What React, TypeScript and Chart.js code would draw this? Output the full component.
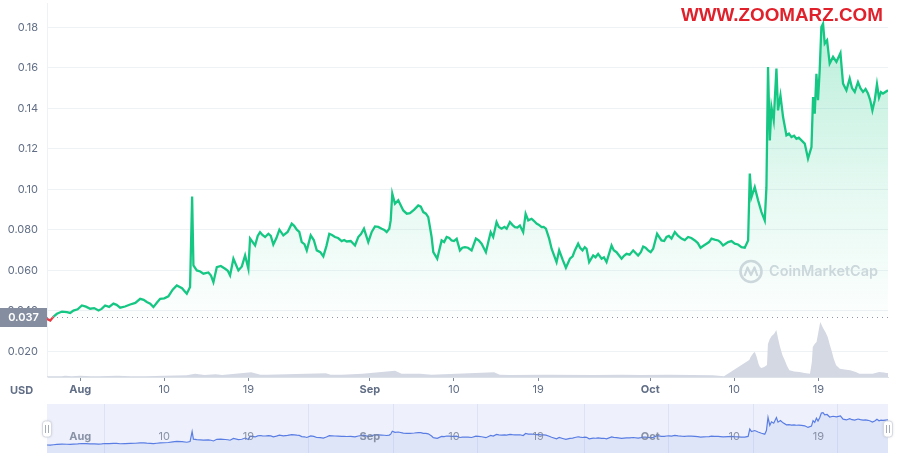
import React, { useEffect, useRef } from 'react';
import { Chart, registerables } from 'chart.js';
Chart.register(...registerables);

// Days counted from Aug 1 (Aug 1 = 0, Sep 1 = 31, Oct 1 = 61)
const priceDays = [
  -3.56, -3.2, -2.49, -1.42, -0.72, 0.18, 1.07, 1.96, 2.67, 3.56, 4.28, 5.35, 6.42, 7.13, 7.84, 8.56, 9.44,
  10.34, 11.41, 11.76, 11.98, 12.12, 12.48, 13.19, 13.72, 14.26, 14.62, 15.51, 16.04, 16.4, 16.93, 17.65,
  18.0, 18.18, 18.72, 19.25, 19.79, 20.14, 20.67, 21.32, 21.74, 22.64, 23.18, 23.71, 24.25, 24.67, 25.32,
  26.02, 26.66, 27.27, 27.99, 28.52, 29.41, 29.76, 30.37, 30.83, 31.55, 32.27, 32.8, 33.08, 33.23, 33.4,
  33.69, 34.04, 34.58, 35.29, 36.18, 36.72, 37.25, 37.61, 37.79, 38.21, 38.68, 39.22, 39.75, 40.29, 40.64,
  41.18, 41.89, 42.35, 42.96, 43.42, 43.93, 44.2, 44.56, 45.1, 45.64, 45.99, 46.52, 47.06, 47.41, 47.67,
  47.95, 48.31, 48.84, 49.38, 49.84, 50.19, 50.45, 50.98, 51.26, 51.63, 51.98, 52.41, 52.94, 53.29, 53.76,
  54.19, 54.47, 54.9, 55.43, 55.8, 56.33, 56.87, 57.4, 57.94, 58.47, 59.18, 59.71, 60.25, 60.78, 61.32,
  61.74, 62.21, 62.75, 63.28, 63.64, 64.35, 65.06, 65.78, 66.39, 67.03, 67.56, 68.27, 68.8, 69.34, 70.05,
  70.77, 71.12, 71.48, 71.66, 71.84, 72.19, 72.55, 72.91, 73.26, 73.44, 73.61, 73.8, 73.98, 74.22, 74.51,
  74.68, 74.94, 75.22, 75.58, 76.12, 76.65, 77.19, 77.54, 77.89, 78.26, 78.43, 78.61, 78.79, 78.96, 79.14,
  79.32, 79.5, 79.68, 79.93, 80.21, 80.57, 80.93, 81.36, 81.64, 82.0, 82.35, 82.89, 83.24, 83.78, 84.31,
  84.78, 85.03, 85.27, 85.49, 85.91, 86.45,
];
const priceValues = [
  0.0361, 0.0353, 0.0386, 0.0394, 0.0402, 0.0427, 0.0411, 0.0402, 0.0427, 0.0436, 0.0416, 0.0432, 0.046, 0.0444, 0.0419, 0.046, 0.0472,
  0.0526, 0.0485, 0.0518, 0.0965, 0.0625, 0.06, 0.0584, 0.059, 0.0542, 0.0616, 0.0608, 0.0575, 0.0658, 0.06, 0.0674,
  0.0608, 0.0757, 0.0723, 0.0789, 0.0765, 0.0781, 0.0728, 0.0801, 0.0773, 0.0831, 0.0801, 0.074, 0.0699, 0.0773, 0.0699,
  0.0669, 0.0781, 0.0765, 0.0745, 0.0743, 0.0723, 0.0765, 0.0806, 0.074, 0.0817, 0.0806, 0.0789, 0.0806, 0.0847, 0.0979,
  0.0929, 0.0946, 0.0896, 0.0883, 0.0921, 0.0888, 0.0863, 0.0765, 0.069, 0.0658, 0.0748, 0.0765, 0.0748, 0.0756, 0.0699,
  0.0715, 0.0699, 0.0757, 0.0732, 0.069, 0.0789, 0.0765, 0.0839, 0.0806, 0.0806, 0.0839, 0.0814, 0.0822, 0.0789, 0.088,
  0.0847, 0.0855, 0.0831, 0.0814, 0.0806, 0.0757, 0.0707, 0.0641, 0.0699, 0.0653, 0.0613, 0.0658, 0.0699, 0.0732, 0.0699,
  0.0707, 0.0641, 0.0674, 0.0682, 0.0658, 0.0641, 0.0723, 0.069, 0.0658, 0.0682, 0.0699, 0.0674, 0.0718, 0.0699, 0.0707,
  0.0781, 0.0748, 0.0765, 0.0757, 0.0789, 0.0757, 0.0765, 0.0748, 0.0712, 0.0732, 0.0757, 0.0748, 0.0723, 0.074, 0.0732,
  0.0715, 0.0712, 0.0748, 0.1078, 0.0962, 0.1011, 0.0946, 0.0888, 0.0847, 0.1011, 0.1604, 0.1242, 0.1406, 0.1341, 0.1596,
  0.139, 0.1464, 0.1357, 0.1267, 0.1258, 0.125, 0.1242, 0.1226, 0.1152, 0.1209, 0.1456, 0.1374, 0.1571, 0.144, 0.1588,
  0.1801, 0.1818, 0.172, 0.1736, 0.1621, 0.1654, 0.1629, 0.1673, 0.1522, 0.1489, 0.1547, 0.1481, 0.153, 0.1481, 0.1473,
  0.139, 0.144, 0.1519, 0.1453, 0.1473, 0.1489,
];
// Extra in-between readings of the jagged price line
const priceDetailDays = [
  -2.85, -1.95, -1.07, -0.27, 0.62, 1.5, 2.3, 3.1, 3.9, 4.8, 5.9, 6.8, 7.5, 8.2, 9.0, 9.9, 10.9,
  12.85, 14.0, 15.05, 15.8, 17.3, 19.0, 19.5, 20.4, 21.0, 22.2, 22.9, 23.45, 24.0, 25.0, 25.7, 26.35,
  26.95, 27.6, 28.25, 28.95, 30.05, 31.2, 31.9, 32.55, 34.95, 35.75, 36.45, 37.0, 38.95, 39.5, 40.0,
  40.9, 41.5, 42.65, 43.7, 44.8, 45.4, 46.25, 46.8, 48.55, 49.1, 49.6, 52.7, 53.5, 54.0, 55.15, 56.05,
  57.1, 58.2, 58.8, 60.0, 60.5, 61.05, 62.5, 63.0, 64.0, 64.7, 65.4, 66.1, 66.7, 67.3, 67.9, 68.5,
  69.7, 70.4, 75.85, 76.4, 76.9, 82.6, 83.5, 84.05, 84.55, 85.7,
];
const priceDetailValues = [
  0.0372, 0.0397, 0.039, 0.0408, 0.0421, 0.0414, 0.041, 0.042, 0.043, 0.0422, 0.044, 0.0455, 0.0436, 0.044, 0.0462, 0.0505, 0.0512,
  0.0595, 0.0575, 0.0622, 0.0598, 0.062, 0.077, 0.0775, 0.077, 0.076, 0.079, 0.082, 0.079, 0.073, 0.075, 0.069, 0.072,
  0.0775, 0.076, 0.075, 0.0745, 0.078, 0.079, 0.0815, 0.08, 0.088, 0.09, 0.0915, 0.088, 0.074, 0.076, 0.0745,
  0.0712, 0.0712, 0.0748, 0.0745, 0.0815, 0.0815, 0.0825, 0.0812, 0.0845, 0.0825, 0.0815, 0.067, 0.0712, 0.0715, 0.0665, 0.0665,
  0.07, 0.0672, 0.0678, 0.069, 0.0712, 0.069, 0.0745, 0.077, 0.077, 0.075, 0.076, 0.0735, 0.0722, 0.074, 0.0752, 0.074,
  0.0745, 0.0728, 0.1275, 0.1265, 0.1255, 0.15, 0.15, 0.1495, 0.144, 0.148,
];

// Volume (relative units)
const volumeDays = [
  -3.55, -2.0, -1.6, -0.9, 0, 1.2, 2.0, 4.0, 5.4, 7.0, 9.0, 11.4, 12.3, 13.3, 14.5, 15.2, 18.3, 19.3, 20.0,
  26.3, 26.8, 28.0, 30.2, 33.7, 34.4, 36.4, 37.6, 44.3, 44.9, 46.0, 50.0, 55.0, 58.0, 60.0, 63.0, 67.7, 68.9,
  71.6, 71.75, 71.9, 72.05, 72.2, 72.4, 72.6, 72.75, 72.9, 73.2, 73.5, 73.6, 73.8, 74.0, 74.25, 74.5, 74.7, 74.9,
  75.15, 75.4, 75.65, 75.9, 76.4, 77.0, 77.5, 78.1, 78.3, 78.4, 78.6, 78.8, 79.0, 79.2, 79.35, 79.5, 79.75,
  80.0, 80.2, 80.4, 80.65, 80.9, 81.3, 81.8, 82.4, 83.0, 83.4, 84.0, 84.8, 85.5, 86.0, 86.3, 86.45,
];
const volumeValues = [
  0.7, 0.7, 1.3, 0.7, 1.3, 0.7, 0.7, 1.3, 0.7, 0.7, 1.3, 1.7, 3.3, 2.0, 2.7, 2.0, 4.7, 2.3, 2.3,
  3.7, 2.3, 2.3, 3.3, 6.3, 3.3, 3.3, 2.3, 4.7, 2.3, 2.0, 2.3, 2.0, 2.3, 2.0, 2.3, 1.7, 0.7,
  17, 20, 22, 24, 25, 20, 13, 10, 9, 10, 12, 33, 38, 41, 43, 47, 38, 30,
  22, 16.7, 11, 6.7, 5.5, 5, 4, 3.3, 15, 30, 33, 35, 45, 55, 52, 49, 45,
  40, 33, 26.7, 18, 11.7, 8.3, 7.5, 6.7, 5, 3.3, 3.3, 3.3, 5, 4.5, 4, 4,
];

const xTickDays = [0, 9, 18, 31, 40, 49, 61, 70, 79];
const xTickLabels = ['Aug', '10', '19', 'Sep', '10', '19', 'Oct', '10', '19'];
const monthLabels = ['Aug', 'Sep', 'Oct'];
const yTickValues = [0.02, 0.04, 0.06, 0.08, 0.1, 0.12, 0.14, 0.16, 0.18];
const baselinePrice = 0.037;
const navGridDays = [2.6, 24.4, 33.45, 42.45, 53.9, 62.9, 71.95, 80.95];

const X_MIN = -3.55;
const X_MAX = 86.45;
const FONT = 'Inter, "Noto Sans", sans-serif';
const TEXT = '#616e85';

export default function App() {
  const mainRef = useRef<HTMLCanvasElement | null>(null);
  const navRef = useRef<HTMLCanvasElement | null>(null);

  useEffect(() => {
    const pricePts = priceDays
      .map((d, i) => ({ x: d, y: priceValues[i] }))
      .concat(priceDetailDays.map((d, i) => ({ x: d, y: priceDetailValues[i] })))
      .sort((a, b) => a.x - b.x);
    const volPts = volumeDays.map((d, i) => ({ x: d, y: volumeValues[i] }));

    const mainPlugin = {
      id: 'mainDeco',
      beforeDatasetsDraw(chart: any) {
        const c = chart.ctx;
        c.save();
        c.strokeStyle = '#d4d8e0';
        c.fillStyle = '#d4d8e0';
        c.lineWidth = 2.6;
        c.beginPath();
        c.arc(751, 271.5, 10.5, 0, Math.PI * 2);
        c.stroke();
        c.lineWidth = 2.2;
        c.lineJoin = 'round';
        c.beginPath();
        c.moveTo(744.5, 276);
        c.lineTo(747.5, 267.5);
        c.lineTo(751, 275);
        c.lineTo(754.5, 267.5);
        c.lineTo(757.5, 276);
        c.stroke();
        const txt = 'CoinMarketCap';
        c.font = `600 16px ${FONT}`;
        const w = c.measureText(txt).width;
        const size = 16 * 109 / w;
        c.font = `600 ${size.toFixed(2)}px ${FONT}`;
        c.textBaseline = 'middle';
        c.textAlign = 'left';
        c.fillText(txt, 769, 272);
        c.restore();
      },
      afterDatasetsDraw(chart: any) {
        const c = chart.ctx;
        const area = chart.chartArea;
        const yS = chart.scales.y;
        const by = Math.round(yS.getPixelForValue(baselinePrice)) + 0.5;
        c.save();
        c.strokeStyle = '#8f98aa';
        c.lineWidth = 1;
        c.setLineDash([1, 4]);
        c.beginPath();
        c.moveTo(area.left, by);
        c.lineTo(area.right, by);
        c.stroke();
        c.setLineDash([]);
        c.fillStyle = '#858ea0';
        c.fillRect(0, by - 9.5, area.left, 19);
        c.fillStyle = '#ffffff';
        c.font = `600 11px ${FONT}`;
        c.textAlign = 'center';
        c.textBaseline = 'middle';
        c.fillText(baselinePrice.toFixed(3), area.left / 2, by);
        c.fillStyle = TEXT;
        c.font = `700 11px ${FONT}`;
        c.textAlign = 'left';
        c.fillText('USD', 10, 391);
        const wm = 'WWW.ZOOMARZ.COM';
        c.font = 'bold 18px "Liberation Sans", Arial, sans-serif';
        const ww = c.measureText(wm).width;
        const fs = 18 * 202 / ww;
        c.font = `bold ${fs.toFixed(2)}px "Liberation Sans", Arial, sans-serif`;
        c.fillStyle = '#e0202b';
        c.textBaseline = 'alphabetic';
        c.fillText(wm, 681, 20.5);
        c.restore();
      },
    };

    const main = new Chart(mainRef.current as HTMLCanvasElement, {
      type: 'line',
      data: {
        datasets: [
          {
            data: pricePts,
            yAxisID: 'y',
            borderWidth: 2.3,
            borderColor: '#16c784',
            pointRadius: 0,
            tension: 0,
            order: 0,
            fill: { value: baselinePrice },
            backgroundColor: (ctx: any) => {
              const chart = ctx.chart;
              const area = chart.chartArea;
              if (!area) return 'rgba(22,199,132,0.1)';
              const bottom = chart.scales.y.getPixelForValue(baselinePrice);
              const g = chart.ctx.createLinearGradient(0, area.top, 0, bottom);
              g.addColorStop(0, 'rgba(22,199,132,0.32)');
              g.addColorStop(0.6, 'rgba(22,199,132,0.11)');
              g.addColorStop(1, 'rgba(22,199,132,0.01)');
              return g;
            },
            segment: {
              borderColor: (ctx: any) =>
                ctx.p0.parsed.y < baselinePrice || ctx.p1.parsed.y < baselinePrice ? '#ea3943' : '#16c784',
            },
          } as any,
          {
            data: volPts,
            yAxisID: 'yv',
            borderWidth: 0,
            borderColor: 'rgba(0,0,0,0)',
            pointRadius: 0,
            fill: 'origin',
            backgroundColor: '#d3d8e3',
            order: 1,
          } as any,
        ],
      },
      options: {
        animation: false,
        responsive: false,
        events: [],
        layout: { padding: { top: 3, right: 12, left: 0, bottom: 0 } },
        plugins: { legend: { display: false }, tooltip: { enabled: false } },
        scales: {
          x: {
            type: 'linear',
            min: X_MIN,
            max: X_MAX,
            afterBuildTicks: (s: any) => {
              s.ticks = xTickDays.map((v) => ({ value: v }));
            },
            afterFit: (s: any) => {
              s.height = 23;
              s.paddingLeft = 0;
              s.paddingRight = 0;
            },
            grid: { display: true, drawOnChartArea: false, drawTicks: true, tickLength: 4, color: '#808a9d' },
            border: { display: true, color: '#dde1e8' },
            ticks: {
              autoSkip: false,
              maxRotation: 0,
              padding: 2,
              color: TEXT,
              font: (ctx: any) => ({
                family: FONT,
                size: 11,
                weight: monthLabels.includes(ctx.tick && ctx.tick.label) ? 'bold' : 'normal',
              }),
              callback: (v: any) => {
                const i = xTickDays.indexOf(Number(v));
                return i >= 0 ? xTickLabels[i] : '';
              },
            },
          },
          y: {
            type: 'linear',
            position: 'left',
            min: 0.0074,
            max: 0.192,
            afterBuildTicks: (s: any) => {
              s.ticks = yTickValues.map((v) => ({ value: v }));
            },
            afterFit: (s: any) => {
              s.width = 47;
              s.paddingTop = 0;
              s.paddingBottom = 0;
            },
            grid: { color: '#eff2f5', drawTicks: false },
            border: { display: true, color: '#eff2f5' },
            ticks: {
              padding: 9,
              color: TEXT,
              font: { family: FONT, size: 11 },
              callback: (v: any) => (Number(v) >= 0.1 ? Number(v).toFixed(2) : Number(v).toFixed(3)),
            },
          },
          yv: {
            type: 'linear',
            display: false,
            min: 0,
            max: 374,
          },
        },
      } as any,
      plugins: [mainPlugin],
    });

    const navPlugin = {
      id: 'navDeco',
      beforeDatasetsDraw(chart: any) {
        const c = chart.ctx;
        const a = chart.chartArea;
        const xs = chart.scales.x;
        c.save();
        c.fillStyle = '#eef1fc';
        c.fillRect(a.left, a.top, a.right - a.left, a.bottom - a.top);
        c.strokeStyle = '#dde3f4';
        c.lineWidth = 1;
        navGridDays.forEach((d) => {
          const x = Math.round(xs.getPixelForValue(d)) + 0.5;
          c.beginPath();
          c.moveTo(x, a.top);
          c.lineTo(x, a.bottom);
          c.stroke();
        });
        c.restore();
      },
      afterDatasetsDraw(chart: any) {
        const c = chart.ctx;
        const a = chart.chartArea;
        const xs = chart.scales.x;
        c.save();
        c.textAlign = 'center';
        c.textBaseline = 'middle';
        c.fillStyle = 'rgba(120,130,150,0.85)';
        xTickDays.forEach((d, i) => {
          const lab = xTickLabels[i];
          c.font = `${monthLabels.includes(lab) ? 'bold' : 'normal'} 11px ${FONT}`;
          c.fillText(lab, xs.getPixelForValue(d), 34);
        });
        [a.left, a.right].forEach((hx) => {
          c.shadowColor = 'rgba(0,0,0,0.15)';
          c.shadowBlur = 3;
          c.fillStyle = '#ffffff';
          c.beginPath();
          (c as any).roundRect(hx - 4.5, 18, 9, 16, 3);
          c.fill();
          c.shadowBlur = 0;
          c.strokeStyle = '#d5d9e2';
          c.lineWidth = 1;
          c.stroke();
          c.strokeStyle = '#a5acbb';
          c.beginPath();
          c.moveTo(hx - 1.5, 22);
          c.lineTo(hx - 1.5, 30);
          c.moveTo(hx + 1.5, 22);
          c.lineTo(hx + 1.5, 30);
          c.stroke();
        });
        c.restore();
      },
    };

    const nav = new Chart(navRef.current as HTMLCanvasElement, {
      type: 'line',
      data: {
        datasets: [
          {
            data: pricePts,
            borderWidth: 1.2,
            borderColor: '#5a7de3',
            pointRadius: 0,
            tension: 0,
            fill: 'origin',
            backgroundColor: 'rgba(90,125,227,0.10)',
          } as any,
        ],
      },
      options: {
        animation: false,
        responsive: false,
        events: [],
        layout: { padding: { top: 1, right: 12, left: 47, bottom: 0 } },
        plugins: { legend: { display: false }, tooltip: { enabled: false } },
        scales: {
          x: { type: 'linear', display: false, min: X_MIN, max: X_MAX },
          y: { type: 'linear', display: false, min: 0, max: 0.2207 },
        },
      } as any,
      plugins: [navPlugin],
    });

    return () => {
      main.destroy();
      nav.destroy();
    };
  }, []);

  return (
    <div style={{ position: 'fixed', left: 0, top: 0, width: 900, height: 462, background: '#ffffff' }}>
      <canvas
        ref={mainRef}
        width={900}
        height={400}
        style={{ position: 'absolute', left: 0, top: 0, width: 900, height: 400 }}
      />
      <canvas
        ref={navRef}
        width={900}
        height={50}
        style={{ position: 'absolute', left: 0, top: 403, width: 900, height: 50 }}
      />
    </div>
  );
}
